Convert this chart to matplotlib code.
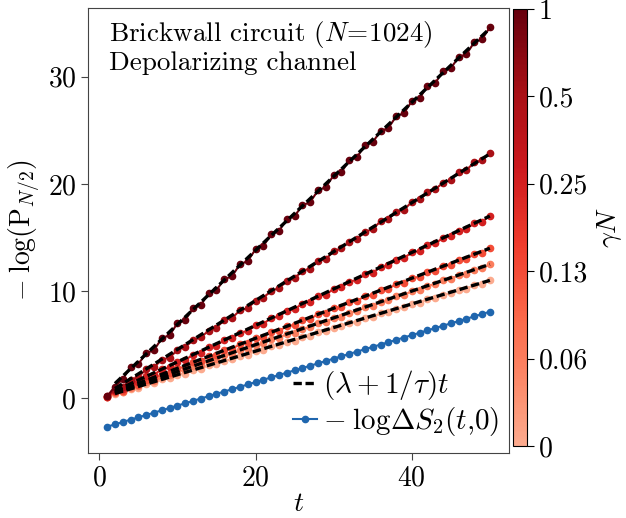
import numpy as np
import matplotlib
matplotlib.use("Agg")
import matplotlib.pyplot as plt
from matplotlib import cm, colors

plt.rcParams['font.family'] = 'serif'
plt.rcParams['font.serif'] = ['cmr10']
plt.rcParams['mathtext.fontset'] = 'cm'
plt.rcParams['axes.formatter.use_mathtext'] = True

# time steps
t = np.arange(1, 51)

# gamma*N values (colorbar labels), light -> dark
gamma_labels = ['0', '0.06', '0.13', '0.25', '0.5', '1']

# -log(P_{N/2}) for each gamma*N
p_g0 = [0.11, 0.44, 0.55, 0.88, 0.99, 1.32, 1.43, 1.76, 1.87, 2.20, 2.31, 2.64, 2.75, 3.08, 3.19, 3.52, 3.63,
        3.96, 4.07, 4.40, 4.51, 4.84, 4.95, 5.28, 5.39, 5.72, 5.83, 6.16, 6.27, 6.60, 6.71, 7.04, 7.15, 7.48,
        7.59, 7.92, 8.03, 8.36, 8.47, 8.80, 8.91, 9.24, 9.35, 9.68, 9.79, 10.12, 10.23, 10.56, 10.67, 11.00]
p_g006 = [0.13, 0.50, 0.63, 1.00, 1.13, 1.50, 1.63, 2.00, 2.13, 2.50, 2.63, 3.00, 3.13, 3.50, 3.63, 4.00, 4.13,
          4.50, 4.63, 5.00, 5.13, 5.50, 5.63, 6.00, 6.13, 6.50, 6.63, 7.00, 7.13, 7.50, 7.63, 8.00, 8.13, 8.50,
          8.63, 9.00, 9.13, 9.50, 9.63, 10.00, 10.13, 10.50, 10.63, 11.00, 11.13, 11.50, 11.63, 12.00, 12.13, 12.50]
p_g013 = [0.14, 0.56, 0.70, 1.12, 1.26, 1.68, 1.82, 2.24, 2.38, 2.80, 2.94, 3.36, 3.50, 3.92, 4.06, 4.48, 4.62,
          5.04, 5.18, 5.60, 5.74, 6.16, 6.30, 6.72, 6.86, 7.28, 7.42, 7.84, 7.98, 8.40, 8.54, 8.96, 9.10, 9.52,
          9.66, 10.08, 10.22, 10.64, 10.78, 11.20, 11.34, 11.76, 11.90, 12.32, 12.46, 12.88, 13.02, 13.44, 13.58, 14.00]
p_g025 = [0.16, 0.68, 0.84, 1.36, 1.52, 2.04, 2.20, 2.72, 2.88, 3.40, 3.56, 4.08, 4.24, 4.76, 4.92, 5.44, 5.60,
          6.12, 6.28, 6.80, 6.96, 7.48, 7.64, 8.16, 8.32, 8.84, 9.00, 9.52, 9.68, 10.20, 10.36, 10.88, 11.04, 11.56,
          11.72, 12.24, 12.40, 12.92, 13.08, 13.60, 13.76, 14.28, 14.44, 14.96, 15.12, 15.64, 15.80, 16.32, 16.48, 17.00]
p_g05 = [0.2, 0.8, 1.1, 1.7, 2.0, 2.7, 2.9, 3.6, 3.8, 4.5, 4.8, 5.4, 5.7, 6.3, 6.6, 7.3, 7.5, 8.2, 8.4, 9.1,
         9.4, 10.0, 10.3, 10.9, 11.2, 11.9, 12.1, 12.8, 13.0, 13.7, 14.0, 14.6, 14.9, 15.5, 15.8, 16.5, 16.7, 17.4,
         17.6, 18.3, 18.6, 19.2, 19.5, 20.1, 20.4, 21.1, 21.3, 22.0, 22.2, 22.9]
p_g1 = [0.2, 1.1, 1.8, 2.9, 3.2, 4.2, 4.5, 5.6, 5.9, 7.0, 7.3, 8.4, 8.7, 9.8, 10.1, 11.1, 11.4, 12.5, 12.8, 13.9,
        14.2, 15.3, 15.6, 16.7, 17.0, 18.0, 18.3, 19.4, 19.7, 20.8, 21.1, 22.2, 22.5, 23.6, 23.9, 24.9, 25.2, 26.3,
        26.6, 27.7, 28.0, 29.1, 29.4, 30.5, 30.8, 31.8, 32.1, 33.2, 33.5, 34.6]
series = [p_g0, p_g006, p_g013, p_g025, p_g05, p_g1]

# fitted rates (lambda + 1/tau) for each gamma*N
rates = [0.22, 0.25, 0.28, 0.34, 0.456, 0.69]

# -log Delta S_2(t, 0)
dS2 = [-2.65, -2.43, -2.21, -1.99, -1.78, -1.56, -1.34, -1.12, -0.90, -0.68, -0.46, -0.24, -0.02, 0.20, 0.42,
       0.63, 0.85, 1.07, 1.29, 1.51, 1.73, 1.95, 2.17, 2.39, 2.61, 2.82, 3.04, 3.26, 3.48, 3.70, 3.92, 4.14,
       4.36, 4.58, 4.80, 5.01, 5.23, 5.45, 5.67, 5.89, 6.11, 6.33, 6.55, 6.77, 6.99, 7.20, 7.42, 7.64, 7.86, 8.08]

cmap = colors.LinearSegmentedColormap.from_list('reds_cut', cm.Reds(np.linspace(0.3, 1.0, 256)))
norm = colors.Normalize(vmin=0, vmax=len(series) - 1)

fig = plt.figure(figsize=(6.26, 5.18), dpi=100)
ax = fig.add_axes([0.1406, 0.1255, 0.6725, 0.859])
cax = fig.add_axes([0.8195, 0.139, 0.0224, 0.8436])

tt = t[1:]
for i, vals in enumerate(series):
    ax.plot(t, vals, '-o', color=cmap(norm(i)), markersize=4.5, lw=1.5, zorder=2)
for i, r in enumerate(rates):
    ax.plot(tt, r * tt, color='black', lw=2.4, linestyle=(0, (2.5, 1.1)), zorder=3,
            label=r'$(\lambda+1/\tau)t$' if i == 0 else None)

ax.plot(t, dS2, '-o', color='#1f66ae', markersize=4.5, lw=1.5,
        label=r'$-\;\mathrm{log}\Delta S_2(t{,}0)$')

ax.set_xlim(-1.45, 52.45)
ax.set_ylim(-5.1, 36.4)
ax.set_xticks([0, 20, 40])
ax.set_yticks([0, 10, 20, 30])
ax.tick_params(labelsize=20, length=5, color='#444444')
for s in ax.spines.values():
    s.set_color('#444444')
ax.set_xlabel(r'$t$', fontsize=20, labelpad=0)
ax.set_ylabel(r'$-\;\log(\mathrm{P}_{N/2})$', fontsize=20, labelpad=4)

ax.text(0.05, 0.975, 'Brickwall circuit ($N\\!=\\!1024$)\nDepolarizing channel',
        transform=ax.transAxes, ha='left', va='top', fontsize=19.5, linespacing=1.08)

ax.legend(loc='lower right', frameon=False, fontsize=21, handlelength=0.8,
          handletextpad=0.2, labelspacing=0.12, borderaxespad=0.15, borderpad=0.2,
          bbox_to_anchor=(1.0, 0.01))

sm = cm.ScalarMappable(norm=norm, cmap=cmap)
cb = fig.colorbar(sm, cax=cax, ticks=range(len(gamma_labels)))
cb.ax.set_yticklabels(gamma_labels)
cb.ax.tick_params(labelsize=20, length=5)
cb.set_label(r'$\gamma N$', fontsize=20, labelpad=5)

fig.savefig('out.png', dpi=100)
